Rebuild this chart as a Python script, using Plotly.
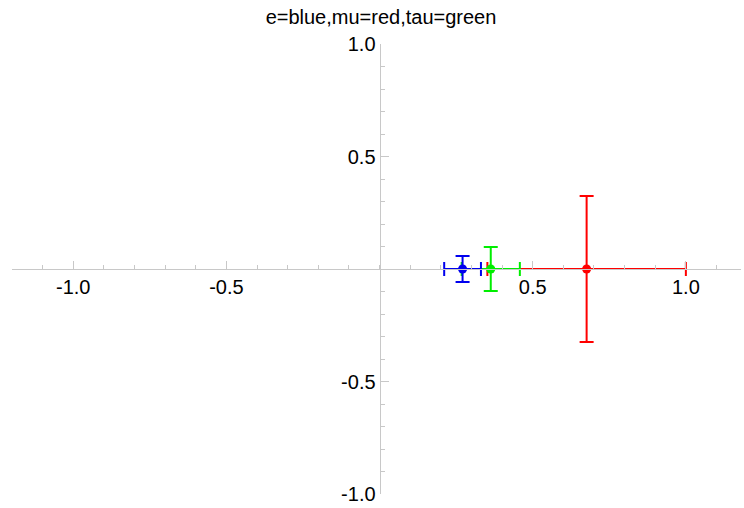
import plotly.graph_objects as go

# data
names = ["mu", "tau", "e"]
colors = ["#ff0000", "#00ee00", "#0000ee"]
x_vals = [0.676, 0.363, 0.271]
y_vals = [0.0, 0.0, 0.0]
x_err = [0.324, 0.095, 0.060]
y_err = [0.324, 0.098, 0.058]

x_range = [-1.2, 1.18]
y_range = [-1.0, 1.0]
x_major = [-1.0, -0.5, 0.5, 1.0]
x_major_text = ["-1.0", "-0.5", "0.5", "1.0"]
y_major = [-1.0, -0.5, 0.5, 1.0]
y_major_text = ["-1.0", "-0.5", "0.5", "1.0"]
x_minor = [round(-1.1 + 0.1 * i, 1) for i in range(23)]
y_minor = [round(-1.0 + 0.1 * i, 1) for i in range(21)]

fig = go.Figure()
for n, c, x, y, ex, ey in zip(names, colors, x_vals, y_vals, x_err, y_err):
    fig.add_trace(go.Scatter(
        x=[x], y=[y], mode="markers", name=n,
        marker=dict(color=c, size=9),
        error_x=dict(type="data", array=[ex], color=c, thickness=2, width=7),
        error_y=dict(type="data", array=[ey], color=c, thickness=2, width=7),
        showlegend=False,
    ))

axcol = "#c8c8c8"
ypos_of_x_axis = (0 - y_range[0]) / (y_range[1] - y_range[0])
xpos_of_y_axis = (0 - x_range[0]) / (x_range[1] - x_range[0])

fig.update_layout(
    width=744, height=508,
    margin=dict(l=12, r=3, t=44, b=14),
    paper_bgcolor="white", plot_bgcolor="white",
    font=dict(family="Liberation Sans, Arial, sans-serif", size=20, color="#000000"),
    title=dict(text="e=blue,mu=red,tau=green", x=381 / 744, xanchor="center",
               y=1 - 17 / 508, yanchor="middle",
               font=dict(size=20, family="Liberation Sans, Arial, sans-serif")),
    xaxis=dict(
        range=x_range, showgrid=False, zeroline=False,
        showline=True, linecolor=axcol, linewidth=1,
        anchor="free", position=ypos_of_x_axis,
        tickmode="array", tickvals=x_major, ticktext=x_major_text,
        ticks="inside", ticklen=8, tickcolor=axcol, tickwidth=1,
        minor=dict(tickmode="array", tickvals=x_minor, ticks="inside",
                   ticklen=4, tickcolor=axcol, tickwidth=1),
        tickfont=dict(size=20), fixedrange=True,
    ),
    yaxis=dict(
        range=y_range, showgrid=False, zeroline=False,
        showline=True, linecolor=axcol, linewidth=1,
        anchor="free", position=xpos_of_y_axis,
        tickmode="array", tickvals=y_major, ticktext=y_major_text,
        ticks="inside", ticklen=8, tickcolor=axcol, tickwidth=1,
        minor=dict(tickmode="array", tickvals=y_minor, ticks="inside",
                   ticklen=4, tickcolor=axcol, tickwidth=1),
        tickfont=dict(size=20), fixedrange=True,
    ),
)

fig.write_html("out.html")
